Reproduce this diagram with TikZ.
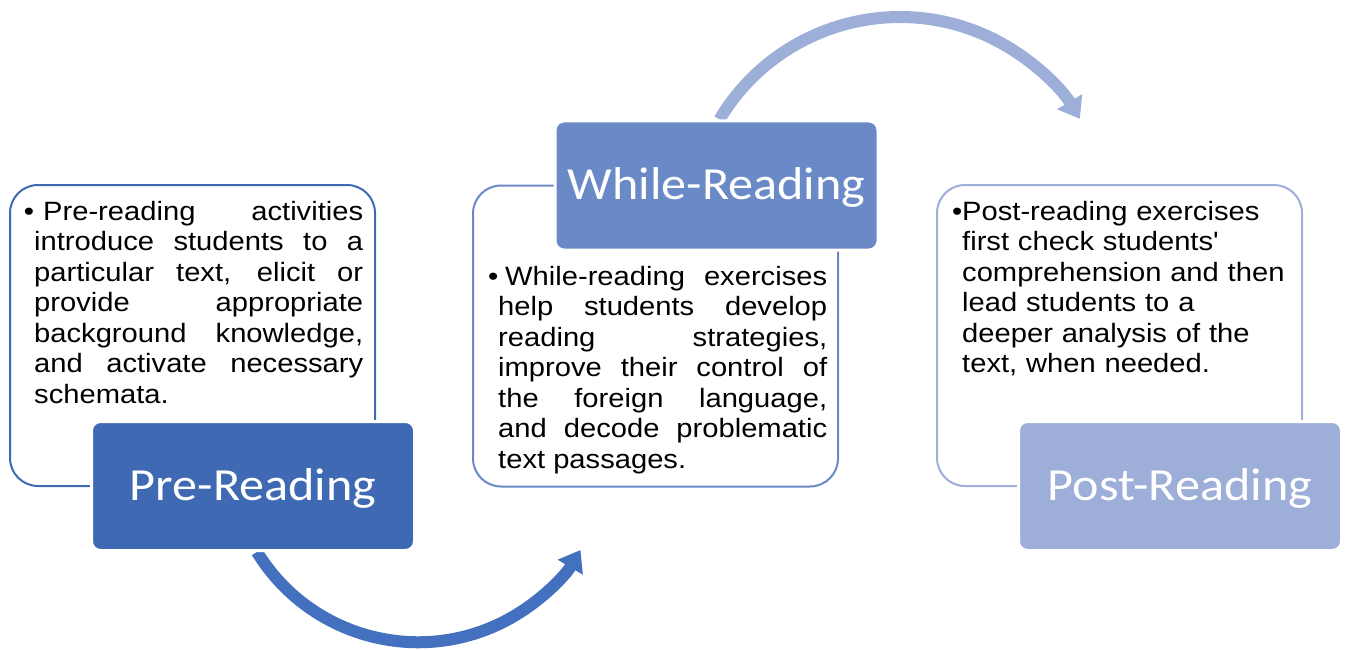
\documentclass[tikz,border=0pt]{standalone}
\usepackage{fontspec}
\usetikzlibrary{arrows.meta}
\newfontfamily\bodyfont[FakeStretch=1.1,Ligatures=TeXOff]{Liberation Sans}
\newfontfamily\titlefont[FakeStretch=1.09]{Carlito}
\definecolor{preblue}{RGB}{63,105,178}
\definecolor{whileblue}{RGB}{106,137,199}
\definecolor{postblue}{RGB}{157,174,216}
\definecolor{arrowblue}{RGB}{68,112,192}
\pgfdeclarelayer{back}
\pgfsetlayers{back,main}
\tolerance=10000
\hyphenpenalty=10000
% title text set slightly below the geometric centre of its box
\newcommand{\stagetitle}[1]{\raisebox{-2pt}[\height][\depth]{#1}}
\begin{document}
\begin{tikzpicture}[x=1pt,y=-1pt,
  outlinebox/.style={draw=#1, line width=2pt, rounded corners=28pt, fill=white,
    inner sep=0pt, minimum width=365pt, minimum height=301pt},
  stagebox/.style={fill=#1, draw=white, line width=3pt, rounded corners=9pt,
    inner sep=0pt, minimum width=323pt, minimum height=129pt, text=white,
    font=\titlefont\fontsize{46}{50}\selectfont},
  bodytext/.style={inner sep=0pt, text width=329pt, anchor=north west,
    font=\bodyfont\fontsize{26.5}{30.5}\selectfont},
  cyclearrow/.style={draw=#1, line width=12pt, -{Triangle[width=28pt,length=20pt]}}]
\useasboundingbox (0,0) rectangle (1346,650);

% outlined description panels
\node[outlinebox=preblue]   (prebg)   at (192.5,335.5)  {};
\node[outlinebox=whileblue] (whilebg) at (655.5,336)    {};
\node[outlinebox=postblue]  (postbg)  at (1119.5,335.5) {};

% stage labels
\node[stagebox=preblue]   (pre)   at (253,486)     {\stagetitle{Pre-Reading}};
\node[stagebox=whileblue] (while) at (716.5,185.5) {\stagetitle{While-Reading}};
\node[stagebox=postblue]  (post)  at (1180,486)    {\stagetitle{Post-Reading}};

% panel texts
\node[bodytext, align=justify] (pretext) at (34,201) {\noindent\llap{\textbullet}\hspace{9pt}Pre-reading activities\linebreak
introduce students to a\linebreak
particular text, elicit or\linebreak
provide appropriate\linebreak
background knowledge,\linebreak
and activate necessary\linebreak
schemata.};

\node[bodytext, align=justify] (whiletext) at (498,266) {\noindent\llap{\textbullet}\hspace{7pt}While-reading exercises\linebreak
help students develop\linebreak
reading strategies,\linebreak
improve their control of\linebreak
the foreign language,\linebreak
and decode problematic\linebreak
text passages.};

\node[bodytext, align=left] (posttext) at (962,201) {\noindent\llap{\textbullet}Post-reading exercises\newline
first check students'\newline
comprehension and then\newline
lead students to a\newline
deeper analysis of the\newline
text, when needed.};

% cycle arrows
\begin{pgfonlayer}{back}
\draw[cyclearrow=arrowblue] ([xshift=4pt]pre.south) arc[start angle=148.5, end angle=30.8, radius=189];
\draw[cyclearrow=postblue] ([xshift=3pt]while.north) arc[start angle=210.8, end angle=329, radius=210];
\end{pgfonlayer}
\end{tikzpicture}
\end{document}
